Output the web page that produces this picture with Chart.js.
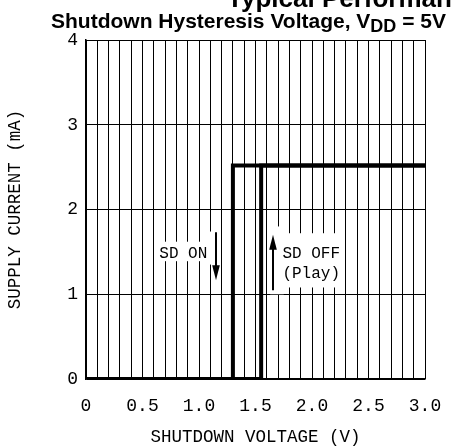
<!DOCTYPE html>
<html><head><meta charset="utf-8">
<script src="https://cdn.jsdelivr.net/npm/chart.js@4/dist/chart.umd.min.js"></script>
<style>html,body{margin:0;padding:0;background:#fff}</style>
</head><body>
<canvas id="c" width="453" height="448"></canvas>
<script>
// ---- data ----
const xTickLabels = ['0', '0.5', '1.0', '1.5', '2.0', '2.5', '3.0'];
const yTickLabels = ['0', '1', '2', '3', '4'];
// SD OFF (Play) path: rising threshold
const sdOffX = [0, 1.55, 1.55, 3.0];
const sdOffY = [0, 0, 2.52, 2.52];
// SD ON path: falling threshold
const sdOnX = [3.0, 1.3, 1.3, 0];
const sdOnY = [2.52, 2.52, 0, 0];
// annotation texts (V, mA)
const noteTexts = ['SD ON', 'SD OFF', '(Play)'];
const noteX = [0.861, 1.993, 1.993];
const noteY = [1.488, 1.488, 1.253];
// white masks behind notes [x0, x1, y0, y1] in V / mA
const maskX0 = [0.65, 1.05, 1.75, 1.63];
const maskX1 = [1.05, 1.19, 2.25, 1.75];
const maskY0 = [1.39, 1.35, 1.08, 1.0];
const maskY1 = [1.62, 1.74, 1.72, 1.8];
// arrows: x, tail y, tip y
const arrowX = [1.15, 1.658];
const arrowTail = [1.733, 1.047];
const arrowTip = [1.165, 1.702];

const MONO = '"Liberation Mono", "DejaVu Sans Mono", monospace';

const notesPlugin = {
  id: 'notes',
  beforeDatasetsDraw(chart) {
    const ctx = chart.ctx, xs = chart.scales.x, ys = chart.scales.y;
    ctx.save();
    ctx.fillStyle = '#fff';
    for (let i = 0; i < maskX0.length; i++) {
      const x0 = xs.getPixelForValue(maskX0[i]), x1 = xs.getPixelForValue(maskX1[i]);
      const y0 = ys.getPixelForValue(maskY1[i]), y1 = ys.getPixelForValue(maskY0[i]);
      ctx.fillRect(x0, y0, x1 - x0, y1 - y0);
    }
    ctx.fillStyle = '#000';
    ctx.font = '16px ' + MONO;
    ctx.textAlign = 'center';
    ctx.textBaseline = 'middle';
    for (let i = 0; i < noteTexts.length; i++) {
      ctx.fillText(noteTexts[i], xs.getPixelForValue(noteX[i]), ys.getPixelForValue(noteY[i]) + 1);
    }
    // arrows
    ctx.strokeStyle = '#000';
    ctx.lineWidth = 2;
    for (let i = 0; i < arrowX.length; i++) {
      const x = Math.round(xs.getPixelForValue(arrowX[i]));
      const yt = ys.getPixelForValue(arrowTail[i]);
      const yp = ys.getPixelForValue(arrowTip[i]);
      const dir = yp > yt ? 1 : -1;
      const headLen = 15, headW = 3.8;
      ctx.beginPath();
      ctx.moveTo(x, yt);
      ctx.lineTo(x, yp - dir * headLen * 0.8);
      ctx.stroke();
      ctx.beginPath();
      ctx.moveTo(x, yp);
      ctx.lineTo(x - headW, yp - dir * headLen);
      ctx.lineTo(x + headW, yp - dir * headLen);
      ctx.closePath();
      ctx.fill();
    }
    ctx.restore();
  }
};

const titlePlugin = {
  id: 'titles',
  afterDraw(chart) {
    const ctx = chart.ctx;
    ctx.save();
    ctx.fillStyle = '#000';
    ctx.textAlign = 'left';
    ctx.textBaseline = 'alphabetic';
    ctx.font = 'bold 26px "Liberation Sans", Arial, sans-serif';
    ctx.fillText('Typical Performance Characteristics', 227, 7);
    const big = 'bold 21px "Liberation Sans", Arial, sans-serif';
    const small = 'bold 18px "Liberation Sans", Arial, sans-serif';
    let x = 51;
    const base = 28;
    ctx.font = big;
    const p1 = 'Shutdown Hysteresis Voltage, V';
    ctx.fillText(p1, x, base);
    x += ctx.measureText(p1).width;
    ctx.font = small;
    ctx.fillText('DD', x, base + 4);
    x += ctx.measureText('DD').width;
    ctx.font = big;
    ctx.fillText(' = 5V', x, base);
    ctx.restore();
  }
};

const pts = (xa, ya) => xa.map((x, i) => ({ x: x, y: ya[i] }));
const lineStyle = {
  showLine: true, borderColor: '#000', backgroundColor: '#000', borderWidth: 4,
  pointRadius: 0, pointHoverRadius: 0, tension: 0, borderJoinStyle: 'miter', borderCapStyle: 'butt', fill: false
};

new Chart(document.getElementById('c'), {
  type: 'scatter',
  data: {
    datasets: [
      Object.assign({ label: 'SD OFF', data: pts(sdOffX, sdOffY) }, lineStyle),
      Object.assign({ label: 'SD ON', data: pts(sdOnX, sdOnY) }, lineStyle)
    ]
  },
  options: {
    responsive: false,
    animation: false,
    devicePixelRatio: 1,
    layout: { padding: { top: 40, right: 28, left: 0, bottom: 0 } },
    plugins: { legend: { display: false }, tooltip: { enabled: false }, title: { display: false } },
    scales: {
      x: {
        type: 'linear', min: 0, max: 3,
        afterFit: s => { s.height = 69; s.paddingLeft = 0; s.paddingRight = 0; },
        ticks: {
          stepSize: 0.1, autoSkip: false, maxRotation: 0, minRotation: 0, padding: 16,
          color: '#000', font: { family: MONO, size: 18 },
          callback: (v, i) => (i % 5 === 0 ? xTickLabels[i / 5] : '')
        },
        grid: { color: '#000', lineWidth: 1, drawTicks: false },
        border: { display: true, color: '#000', width: 1.5 },
        title: { display: true, text: 'SHUTDOWN VOLTAGE (V)', color: '#000', font: { family: MONO, size: 17.5 }, padding: { top: 0, bottom: 0 } }
      },
      y: {
        type: 'linear', min: 0, max: 4,
        afterFit: s => { s.width = 86; s.paddingTop = 0; s.paddingBottom = 0; },
        ticks: {
          stepSize: 1, padding: 8, color: '#000', font: { family: MONO, size: 18 },
          callback: (v, i) => yTickLabels[i]
        },
        grid: { color: '#000', lineWidth: 1, drawTicks: false },
        border: { display: true, color: '#000', width: 1.5 },
        title: { display: true, text: 'SUPPLY CURRENT (mA)', color: '#000', font: { family: MONO, size: 17.5 }, padding: { top: 5, bottom: 0 } }
      }
    }
  },
  plugins: [notesPlugin, titlePlugin]
});
</script>
</body></html>
